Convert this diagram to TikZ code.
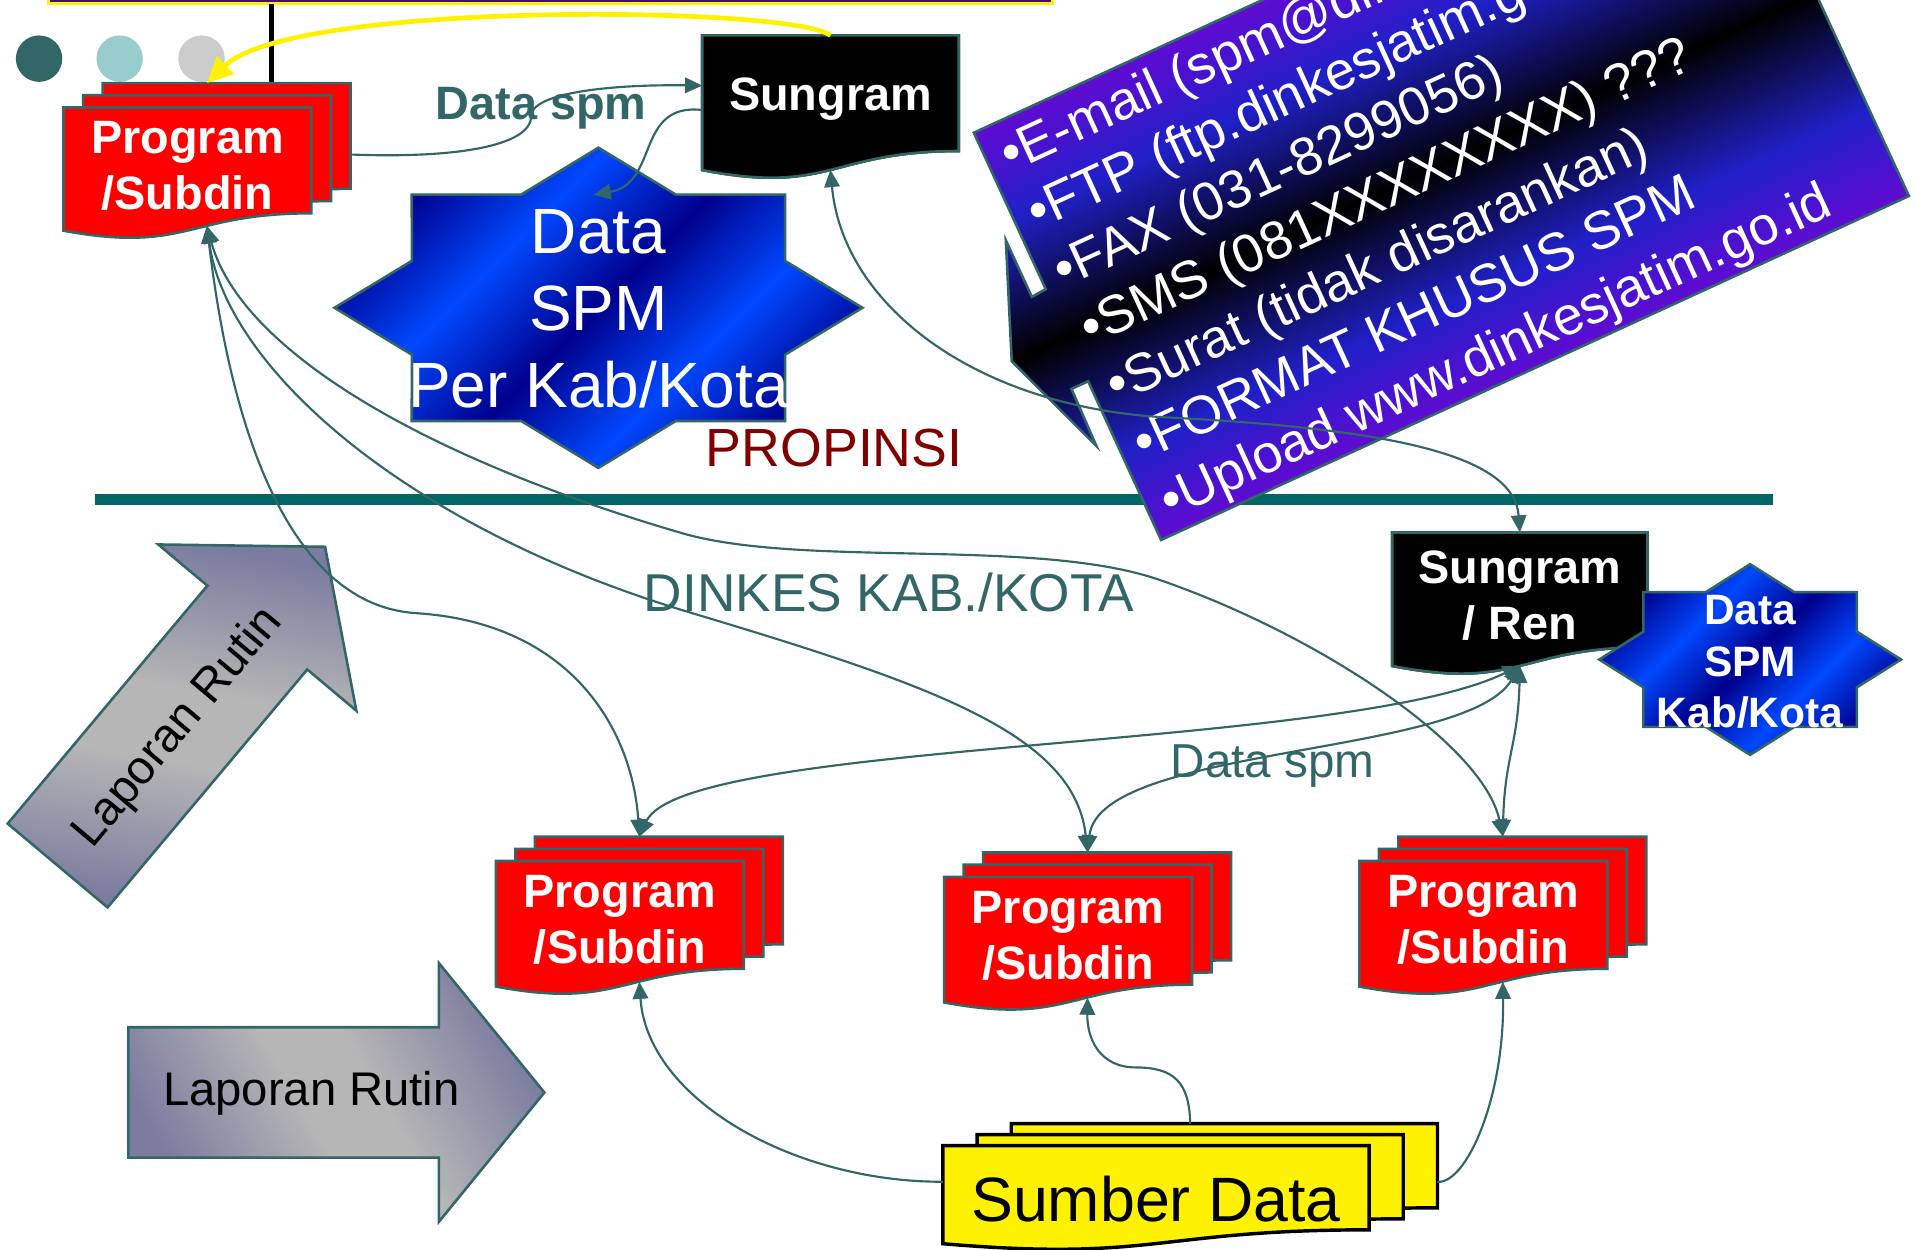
\documentclass[tikz,border=0pt]{standalone}
\usepackage{fontspec}
\setmainfont{Liberation Sans}
\usetikzlibrary{arrows.meta, calc, shapes.geometric, shapes.arrows}

\definecolor{teal1}{RGB}{51,102,102}
\definecolor{teal2}{RGB}{0,102,102}
\definecolor{tealpale}{RGB}{153,204,204}
\definecolor{greypale}{RGB}{204,204,204}
\definecolor{darkred1}{RGB}{128,0,0}
\definecolor{navy1}{RGB}{0,0,140}
\definecolor{blue1}{RGB}{0,72,255}
\definecolor{blue2}{RGB}{32,32,200}
\definecolor{violet1}{RGB}{130,0,215}
\definecolor{barpurple}{RGB}{64,16,112}
\definecolor{slate1}{RGB}{124,124,160}
\definecolor{grey1}{RGB}{182,182,182}

\pgfdeclareverticalshading{starshade}{100bp}{color(0bp)=(navy1); color(25bp)=(navy1); color(37.5bp)=(blue1); color(50bp)=(navy1); color(62.5bp)=(blue1); color(75bp)=(navy1); color(100bp)=(navy1)}
\pgfdeclareverticalshading{callshade}{100bp}{color(0bp)=(violet1); color(33bp)=(violet1); color(42bp)=(blue2); color(50bp)=(black); color(58bp)=(blue2); color(67bp)=(violet1); color(100bp)=(violet1)}
\pgfdeclareverticalshading{lapshade}{100bp}{color(0bp)=(slate1); color(25bp)=(slate1); color(45bp)=(grey1); color(55bp)=(grey1); color(75bp)=(slate1); color(100bp)=(slate1)}

% one document sheet: [style]{top left}{width}{height}
\newcommand{\docshape}[4][]{%
  \path[#1] #2 -- ++(#3,0) -- ++(0,0.802*#4)
    .. controls +(-0.5*#3,0) and +(0.5*#3,0.173*#4) .. ++(-#3,0.132*#4) -- cycle;
}
% three sheets: name, kind, x, y, w, h, dx, dy, text
\newcommand{\docstack}[9]{%
  \docshape[#2 shape]{(#3+2*#7,#4-2*#8)}{#5}{#6}
  \docshape[#2 shape]{(#3+#7,#4-#8)}{#5}{#6}
  \docshape[#2 shape]{(#3,#4)}{#5}{#6}
  \node[stackbox, minimum width={(#5+2*#7)*0.01cm},
        minimum height={(2*#8+#6*(0.933-0.44*#7/#5))*0.01cm}] (#1) at (#3,#4-2*#8) {};
  \node[#2 text] (#1-txt) at (#3+0.5*#5,#4+0.44*#6) {#9};
}

\tikzset{
  stackbox/.style={rectangle, anchor=north west, inner sep=0pt, outer sep=0pt},
  prog shape/.style={fill=red, draw=teal1, line width=0.6pt},
  prog text/.style={text=white, align=center, font=\fontsize{10.9}{13}\selectfont\bfseries},
  sung shape/.style={fill=black, draw=teal1, line width=0.6pt},
  sung text/.style={prog text},
  sumber shape/.style={fill=yellow, draw=black, line width=0.8pt},
  sumber text/.style={font=\fontsize{14.6}{17}\selectfont, yshift=-0.06cm},
  datastar/.style={star, star points=8, star point ratio=1.307, inner sep=0pt,
    draw=teal1, line width=0.6pt, shade, shading=starshade, shading angle=45},
  lapor/.style={single arrow, single arrow head extend=0.5245cm, single arrow tip angle=101.6,
    single arrow head indent=0pt, minimum height=3.405cm, inner xsep=0pt, inner ysep=0.523cm,
    draw=teal1, line width=0.6pt, shade, shading=lapshade},
  lapor text/.style={font=\fontsize{11}{13}\selectfont},
  link/.style={teal1, line width=0.5pt, -{Triangle[length=4pt,width=3.6pt]}},
  twoway/.style={link, {Triangle[length=4pt,width=3.6pt]}-{Triangle[length=4pt,width=3.6pt]}},
  hint/.style={yellow, line width=1.1pt, -{Triangle[length=6pt,width=5.5pt]}}
}

\begin{document}
\begin{tikzpicture}[x=0.01cm, y=-0.01cm]
  \useasboundingbox (0,0) rectangle (1568,1023);

  % title bar and bullets
  \draw[fill=barpurple, draw=yellow, line width=0.7pt] (40,-30) rectangle (862,3);
  \draw[line width=1.2pt] (222,3) -- (222,90);
  \fill[teal1] (32,48) circle (19);
  \fill[tealpale] (98,48) circle (19);
  \fill[greypale] (165,48) circle (19);

  % border propinsi / kab
  \draw[teal2, line width=2.6pt] (78,409) -- (1452,409);

  % propinsi
  \docstack{p0}{prog}{52}{88}{203}{108}{16}{10}{Program\\/Subdin}
  \docstack{sg}{sung}{575}{29}{210}{118}{0}{0}{Sungram}
  \node[datastar, minimum size=2.62cm, xscale=1.649] (dspm) at (490,252) {};
  \node[text=white, align=center, font=\fontsize{14.9}{17.9}\selectfont] (dspm-txt) at (490,253) {Data\\SPM\\Per Kab/Kota};

  % kab/kota
  \docstack{p1}{prog}{406}{705}{203}{110}{16}{10}{Program\\/Subdin}
  \docstack{p2}{prog}{773}{718}{203}{110}{16}{10}{Program\\/Subdin}
  \docstack{p3}{prog}{1113}{705}{203}{110}{16}{10}{Program\\/Subdin}
  \docstack{sd}{sumber}{772}{938}{349}{86}{28}{9}{Sumber Data}
  \docstack{sr}{sung}{1140}{436}{209}{117}{0}{0}{Sungram\\/ Ren}
  \node[datastar, minimum size=1.56cm, xscale=1.583] (dkab) at (1433,540) {};
  \node[text=white, align=center, font=\fontsize{9.9}{12}\selectfont\bfseries] (dkab-txt) at (1433,542) {Data\\SPM\\Kab/Kota};

  % laporan rutin
  \node[lapor, anchor=tail, rotate=50, shading angle=-10] (lap1) at (46.5,709.5) {};
  \node[lapor text, rotate=50] (lap1-txt) at (146,596) {Laporan Rutin};
  \node[lapor, anchor=tail, shading angle=-60] (lap2) at (104,894.5) {};
  \node[lapor text] (lap2-txt) at (255,895) {Laporan Rutin};

  % media pengiriman
  \begin{scope}[shift={(801,107)}, rotate=24.7]
    \path[draw=teal1, line width=0.6pt, shade, shading=callshade, shading angle=24.7]
      (-4,0) -- (670,0) -- (670,367) -- (-4,367) -- (-4,224) -- (-19,224) -- (-20,275)
      -- (-54,183) -- (-17,91) -- (-17,142) -- (-4,141) -- cycle;
    \node[text=white, align=left, anchor=north west, inner sep=0pt, rotate=24.7,
      font=\fontsize{12.5}{14.8}\selectfont] (media) at (9,10)
      {•E-mail (spm@dinkesjatim.go.id)\\•FTP (ftp.dinkesjatim.go.id)\\•FAX (031-8299056)\\
       •SMS (081XXXXXXXX) ???\\•Surat (tidak disarankan)\\•FORMAT KHUSUS SPM\\
       •Upload www.dinkesjatim.go.id};
  \end{scope}

  % labels
  \node[text=teal1, font=\fontsize{10.9}{13}\selectfont\bfseries] (spm-top) at (443,89) {Data spm};
  \node[text=darkred1, font=\fontsize{12.5}{15}\selectfont] (prop) at (683,367) {PROPINSI};
  \node[text=teal1, font=\fontsize{12.4}{14}\selectfont] (dinkes) at (728,485) {DINKES KAB./KOTA};
  \node[text=teal1, font=\fontsize{11.1}{13}\selectfont] (spm-low) at (1042,627) {Data spm};

  % arus data propinsi
  \draw[link] (p0.east) .. controls (380,130) and (435,118) .. (435,95)
    .. controls (435,76) and (500,69) .. ($(sg.west)+(0,-14)$);
  \draw[link] ($(sg.west)+(0,6)$) .. controls (520,84) and (540,150) .. ($(dspm.north)+(-4,40)$);
  \draw[twoway] (sg.south) .. controls (690,250) and (800,335) .. (960,342)
    .. controls (1150,352) and (1240,375) .. (sr.north);

  % propinsi ke program kab/kota
  \draw[twoway] (p0.south) .. controls (190,360) and (240,495) .. (340,502)
    .. controls (470,510) and (518,600) .. (p1.north);
  \draw[twoway] (p0.south) .. controls (185,300) and (330,430) .. (560,500)
    .. controls (760,560) and (880,600) .. (p2.north);
  \draw[twoway] (p0.south) .. controls (195,280) and (330,370) .. (560,437)
    .. controls (660,465) and (850,440) .. (950,475)
    .. controls (1080,520) and (1215,610) .. (p3.north);

  % sungram/ren ke program
  \draw[twoway] (sr.south) .. controls (1100,615) and (560,605) .. (p1.north);
  \draw[twoway] (sr.south) .. controls (1200,620) and (900,610) .. (p2.north);
  \draw[twoway] (sr.south) .. controls (1243,610) and (1232,620) .. (p3.north);

  % sumber data
  \draw[link] (sd.west) .. controls (650,968) and (530,900) .. (p1.south);
  \draw[link] (sd.north) .. controls (974,885) and (960,874) .. (930,874)
    .. controls (900,874) and (890,850) .. (p2.south);
  \draw[link] (sd.east) .. controls (1200,970) and (1232,900) .. (p3.south);

  % umpan balik
  \draw[hint] (sg.north) .. controls (650,5) and (240,0) .. (p0.north);
\end{tikzpicture}
\end{document}
